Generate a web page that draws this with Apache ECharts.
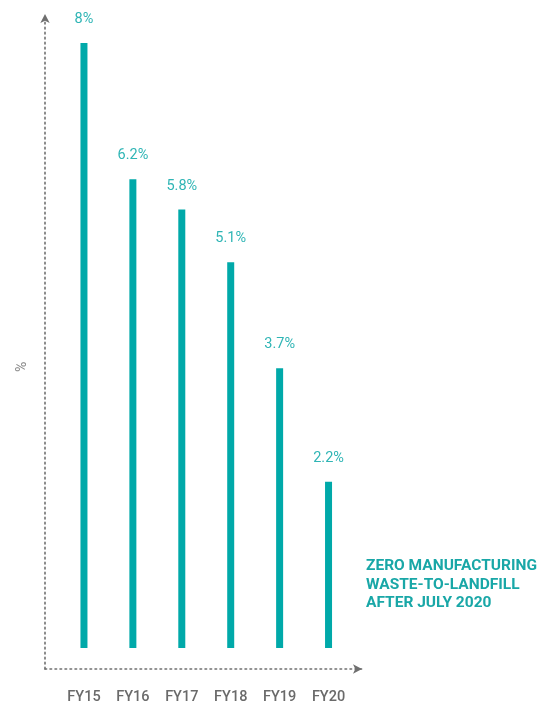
<!DOCTYPE html>
<html><head><meta charset="utf-8">
<script src="https://cdn.jsdelivr.net/npm/echarts@6/dist/echarts.min.js"></script>
<style>html,body{margin:0;padding:0;background:#fff}#c{width:543px;height:706px}</style>
</head><body><div id="c"></div>
<script>
const categories = ['FY15','FY16','FY17','FY18','FY19','FY20'];
const values = [8, 6.2, 5.8, 5.1, 3.7, 2.2];
const noteLines = ['ZERO MANUFACTURING', 'WASTE-TO-LANDFILL', 'AFTER JULY 2020'];
const yName = '%';

const chart = echarts.init(document.getElementById('c'));
const axisStyle = {color:'#6f6f6f', type:[1.6,3.4], width:1.6};
chart.setOption({
  animation:false,
  grid:[
    {left:59.5, right:190, top:43, bottom:58},
    {left:45, right:181, top:14, bottom:37}
  ],
  xAxis:[
    {gridIndex:0, type:'category', data:categories, boundaryGap:true,
     axisLine:{show:false}, axisTick:{show:false},
     axisLabel:{margin:42, color:'#6a6a6a', fontSize:14.5, fontWeight:500, fontFamily:'Roboto'}},
    {gridIndex:1, type:'value', min:0, max:1, axisLabel:{show:false}, axisTick:{show:false}, splitLine:{show:false},
     axisLine:{show:true, lineStyle:axisStyle, symbol:['none','arrow'], symbolSize:[7,9]}}
  ],
  yAxis:[
    {gridIndex:0, type:'value', min:0, max:8, show:false},
    {gridIndex:1, type:'value', min:0, max:1, axisLabel:{show:false}, axisTick:{show:false}, splitLine:{show:false},
     axisLine:{show:true, lineStyle:axisStyle, symbol:['none','arrow'], symbolSize:[7,9]}}
  ],
  series:[{
    type:'bar', xAxisIndex:0, yAxisIndex:0, data:values, barWidth:7,
    itemStyle:{color:'#00a9a9'},
    label:{show:true, position:'top', distance:16, color:'#2fb5b5', fontSize:14.5, fontFamily:'Roboto',
      formatter:p=>p.value+'%'}
  }],
  graphic:[
    {type:'text', x:15, y:372, rotation:Math.PI/2,
     style:{text:yName, fill:'#888', font:'14px Roboto'}},
    {type:'text', left:366, top:557,
     style:{text:noteLines.join('\n'), fill:'#19a7a7', font:'bold 15.5px Roboto', lineHeight:18.5}}
  ]
});
</script></body></html>
